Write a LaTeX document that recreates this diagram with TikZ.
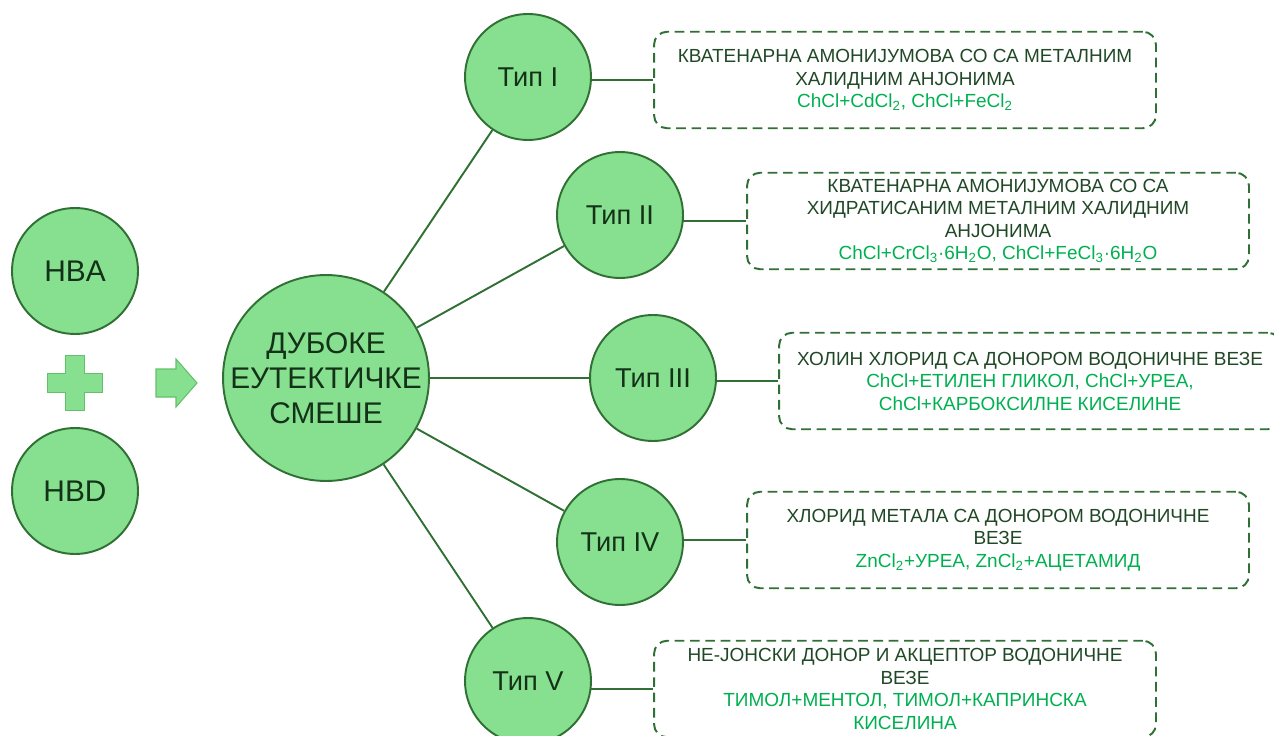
\documentclass[tikz,border=0pt]{standalone}
\usepackage{fontspec}
\setmainfont{Liberation Sans}
\usetikzlibrary{backgrounds}

\definecolor{clrfill}{RGB}{134,224,143}
\definecolor{clrline}{RGB}{48,112,52}
\definecolor{clrtext}{RGB}{20,50,24}
\definecolor{clrdark}{RGB}{32,72,38}
\definecolor{clrform}{RGB}{0,176,80}
\definecolor{clrsign}{RGB}{100,192,106}

\tikzset{
  ball/.style={circle,draw=clrline,line width=1.1pt,fill=clrfill,text=clrtext,
    minimum size=2.52cm,inner sep=0pt,align=center,
    font=\fontsize{15.5}{20}\selectfont},
  bigtext/.style={font=\fontsize{17}{20}\selectfont,text=clrtext,align=center},
  infobox/.style={draw=clrline,line width=1.1pt,dash pattern=on 5.5pt off 3.2pt,
    rounded corners=0.26cm,minimum width=10.04cm,minimum height=1.93cm,
    inner sep=2pt,align=center,text=clrdark,
    font=\fontsize{10.8}{12.8}\selectfont},
  link/.style={draw=clrline,line width=1.1pt},
  sign/.style={fill=clrfill,draw=clrsign,line width=0.6pt},
}

% green formula line, subscript
\newcommand*{\frm}[1]{\textcolor{clrform}{#1}}
\newcommand*{\ind}[1]{\textsubscript{#1}}

\begin{document}
\begin{tikzpicture}[x=0.02cm,y=-0.02cm]

\useasboundingbox (0,0) rectangle (1274,736);

% HBA + HBD => DES
\node[ball,bigtext] (hba) at (75,271) {HBA};
\node[ball,bigtext] (hbd) at (75,491) {HBD};

\draw[sign] (65.5,355.5) -- ++(19,0) -- ++(0,18) -- ++(18,0) -- ++(0,19) -- ++(-18,0)
  -- ++(0,18) -- ++(-19,0) -- ++(0,-18) -- ++(-18,0) -- ++(0,-19) -- ++(18,0) -- cycle;
\draw[sign] (156,369) -- (176,369) -- (176,359) -- (197,383) -- (176,407) -- (176,397)
  -- (156,397) -- cycle;

\node[ball,minimum size=4.12cm,
  label={[bigtext]center:ДУБОКЕ\\ЕУТЕКТИЧКЕ\\СМЕШЕ}] (mix) at (326,378) {};

% types
\node[ball] (tip1) at (528,77) {Тип I};
\node[ball] (tip2) at (620,215) {Тип II};
\node[ball] (tip3) at (653,378) {Тип III};
\node[ball] (tip4) at (620,542) {Тип IV};
\node[ball] (tip5) at (528,681) {Тип V};

\node[infobox] (box1) at (905,80) {КВАТЕНАРНА АМОНИЈУМОВА СО СА МЕТАЛНИМ\\
  ХАЛИДНИМ АНЈОНИМА\\
  \frm{ChCl+CdCl\ind{2}, ChCl+FeCl\ind{2}}};
\node[infobox] (box2) at (998,221) {КВАТЕНАРНА АМОНИЈУМОВА СО СА\\
  ХИДРАТИСАНИМ МЕТАЛНИМ ХАЛИДНИМ\\
  АНЈОНИМА\\
  \frm{ChCl+CrCl\ind{3}·6H\ind{2}O, ChCl+FeCl\ind{3}·6H\ind{2}O}};
\node[infobox] (box3) at (1030,381) {ХОЛИН ХЛОРИД СА ДОНОРОМ ВОДОНИЧНЕ ВЕЗЕ\\
  \frm{ChCl+ЕТИЛЕН ГЛИКОЛ, ChCl+УРЕА,}\\
  \frm{ChCl+КАРБОКСИЛНЕ КИСЕЛИНЕ}};
\node[infobox] (box4) at (998,540) {ХЛОРИД МЕТАЛА СА ДОНОРОМ ВОДОНИЧНЕ\\
  ВЕЗЕ\\
  \frm{ZnCl\ind{2}+УРЕА, ZnCl\ind{2}+АЦЕТАМИД}};
\node[infobox] (box5) at (905,689) {НЕ-ЈОНСКИ ДОНОР И АКЦЕПТОР ВОДОНИЧНЕ\\
  ВЕЗЕ\\
  \frm{ТИМОЛ+МЕНТОЛ, ТИМОЛ+КАПРИНСКА}\\
  \frm{КИСЕЛИНА}};

\begin{scope}[on background layer]
\foreach \i in {1,...,5}{
  \draw[link] (mix) -- (tip\i);
  \draw[link] (tip\i.center |- box\i.west) -- (box\i.west);
}
\end{scope}

\end{tikzpicture}
\end{document}
